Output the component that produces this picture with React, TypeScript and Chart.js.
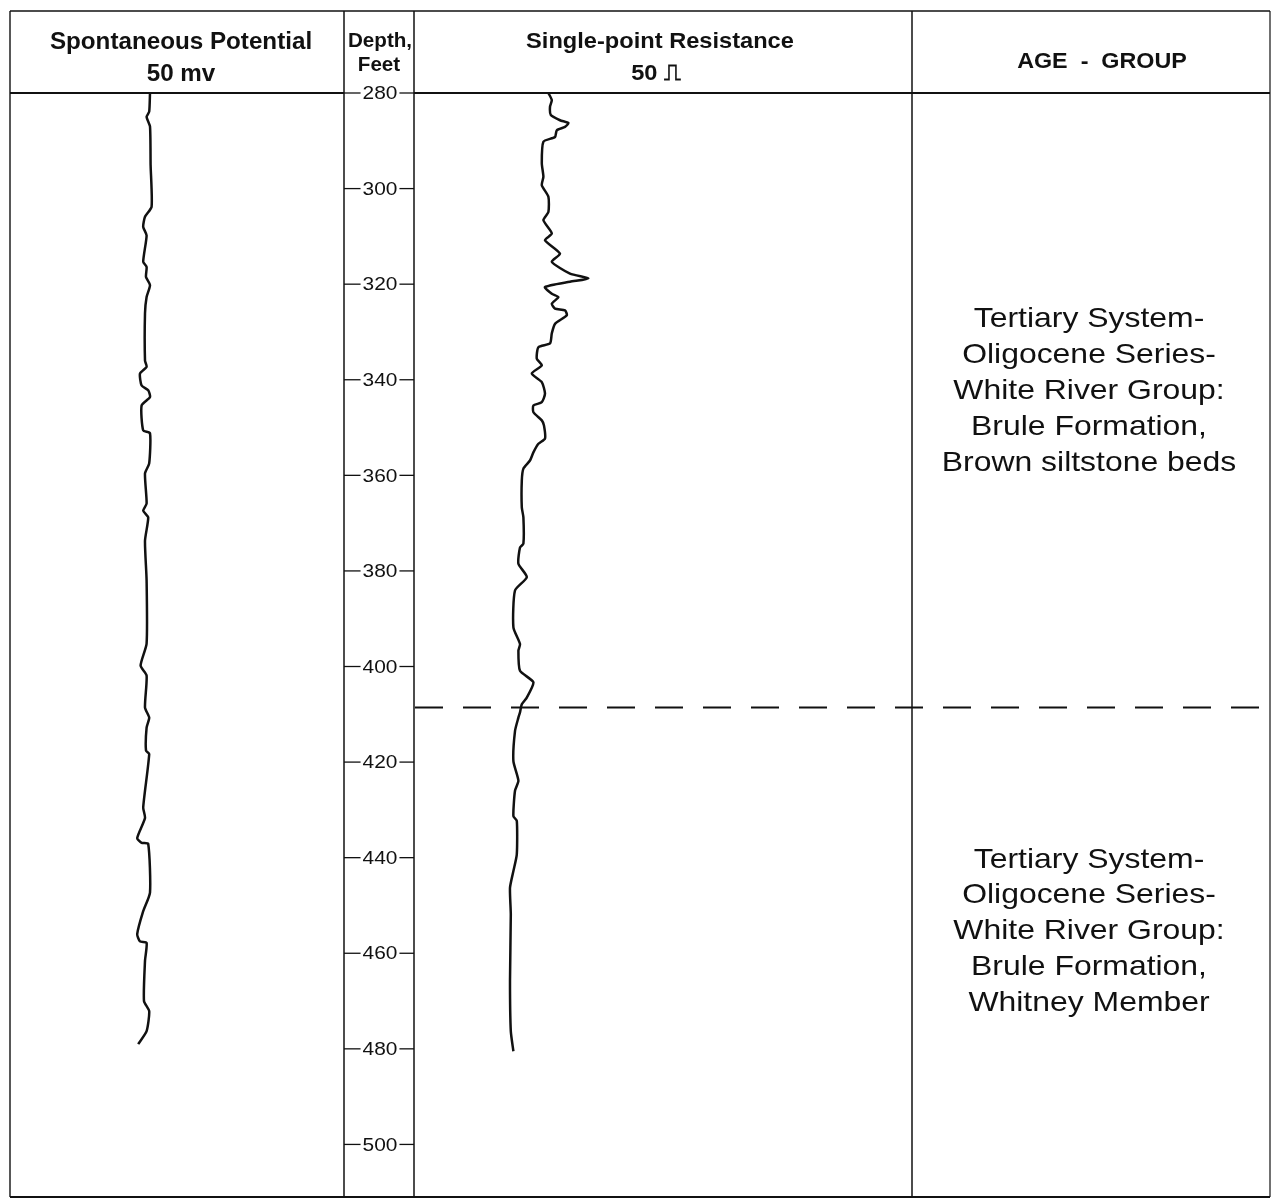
import React, { useEffect, useRef } from "react";
import { Chart, registerables } from "chart.js";

Chart.register(...registerables);

// ---------------- data ----------------
const depthTicks = [280, 300, 320, 340, 360, 380, 400, 420, 440, 460, 480, 500];

// Spontaneous potential (mV, relative) by depth (feet)
const spDepth = [280, 283.9, 285, 287, 295, 303.8, 305.9, 308, 309.8, 315.3, 316.4, 318.5, 320.2, 322.7, 326.1, 336, 337.3, 338.7, 341.2, 342.2, 343.6, 345.4, 350.6, 351.2, 357.5, 359.6, 365.9, 367.4, 368.8, 373.7, 382, 395.2, 399.8, 401.9, 408.6, 410.7, 412.8, 417.6, 418.3, 429.5, 431.7, 435.9, 436.9, 437.1, 447.3, 451.2, 456, 457.5, 457.8, 461.6, 470, 472.1, 476.3, 479];
const spValues = [70, 69.6, 68.3, 70, 70.3, 70.8, 67.5, 66.6, 68.3, 66.6, 68.3, 68, 70, 68.3, 67.5, 67.5, 68.3, 65, 65.8, 69.1, 70, 65.8, 66.6, 70, 69.6, 67.5, 68.3, 66.6, 69.1, 67.5, 68.3, 68.3, 65.3, 68.3, 67.5, 69.6, 68.3, 68, 69.6, 66.6, 67.5, 63.6, 65.8, 69.1, 70, 66.6, 63.6, 65, 68.3, 67.5, 67, 69.6, 68.3, 64.1];

// Single-point resistance (ohms, relative) by depth (feet)
const resDepth = [280, 281.5, 282.9, 284.6, 285.7, 286.3, 287.1, 287.8, 289.2, 290.2, 294.7, 297.5, 299.3, 301.7, 304.9, 306.6, 309.4, 310.8, 313.6, 315.3, 317.8, 318.8, 319.5, 320.6, 322, 322.7, 324.1, 325.1, 325.5, 326.5, 328.3, 330.3, 332.4, 333.2, 335.6, 337, 338.7, 340.5, 342.9, 344.7, 345.4, 346.8, 348.5, 349.6, 352.3, 353.4, 355.2, 356.9, 358.6, 361.1, 366.7, 368.8, 374.3, 375.1, 378.5, 381.3, 384.1, 391.8, 395.3, 396.7, 400.9, 403.3, 406.5, 407.9, 409.6, 410.7, 413.5, 419.8, 423.9, 426, 431.3, 432.3, 439.3, 442.8, 446.3, 451.9, 465.8, 476.3, 480.5];
const resValues = [66.7, 68.4, 67.5, 67.9, 72.5, 76.7, 75, 70.9, 70, 64.2, 63.4, 64.2, 63.4, 66.7, 66.7, 64.2, 68.4, 65, 72.5, 68.4, 77.5, 86.7, 77.5, 65, 68.4, 71.7, 68.4, 70, 75, 75.9, 70, 68.4, 67.5, 61.7, 60.9, 63.4, 58.4, 63.4, 65, 63.4, 59.2, 59.2, 63.4, 64.5, 65, 61.7, 59.2, 57.5, 54.2, 53.4, 53.4, 54.2, 54.2, 52.5, 51.7, 55.9, 50, 49.2, 52.5, 51.7, 52.5, 59.2, 55.9, 53.4, 52.5, 51.7, 50, 49.2, 51.7, 50, 49.2, 50.9, 50.9, 49.2, 47.5, 47.9, 47.5, 47.9, 49.2];

const depthMin = 280;
const depthMax = 511;
const contactDepth = 408.6;

const upperUnitLines = ["Tertiary System-", "Oligocene Series-", "White River Group:", "Brule Formation,", "Brown siltstone beds"];
const upperUnitCenterDepth = 342.4;
const lowerUnitLines = ["Tertiary System-", "Oligocene Series-", "White River Group:", "Brule Formation,", "Whitney Member"];
const lowerUnitCenterDepth = 455.4;

const spTitle = ["Spontaneous Potential", "50 mv"];
const depthTitle = ["Depth,", "Feet"];
const resTitle = ["Single-point Resistance", "50 \u238D"];
const ageTitle = "AGE  -  GROUP";

// ---------------- layout ----------------
const W = 1277;
const H = 1200;
const FRAME_L = 10;
const FRAME_R = 1270;
const FRAME_T = 11;
const HEADER_B = 93;
const FRAME_B = 1197;
const COL_SP_R = 344;
const COL_DEPTH_R = 414;
const COL_RES_R = 912;

// value ranges represented by the SP and resistance track widths
const SP_TRACK = { left: FRAME_L, right: COL_SP_R, vMin: 0, vMax: (COL_SP_R - FRAME_L) / 2 };
const RES_TRACK = { left: 415, right: COL_RES_R, vMin: 0, vMax: (COL_RES_R - 415) / 2 };

function axisRange(track: { left: number; right: number; vMin: number; vMax: number }) {
  const perPx = (track.vMax - track.vMin) / (track.right - track.left);
  return {
    min: track.vMin - (track.left - FRAME_L) * perPx,
    max: track.vMax + (FRAME_R - track.right) * perPx,
  };
}

const INK = "#111111";
const SANS = "'Liberation Sans', Arial, Helvetica, 'DejaVu Sans', sans-serif";

function drawText(
  ctx: CanvasRenderingContext2D,
  text: string,
  x: number,
  y: number,
  font: string,
  stretch: number,
  baseline: CanvasTextBaseline = "alphabetic"
) {
  ctx.save();
  ctx.font = font;
  ctx.fillStyle = INK;
  ctx.textAlign = "center";
  ctx.textBaseline = baseline;
  ctx.translate(x, y);
  ctx.scale(stretch, 1);
  ctx.fillText(text, 0, 0);
  ctx.restore();
}

function line(ctx: CanvasRenderingContext2D, x1: number, y1: number, x2: number, y2: number, w = 1.5) {
  ctx.save();
  ctx.strokeStyle = INK;
  ctx.lineWidth = w;
  ctx.beginPath();
  ctx.moveTo(x1, y1);
  ctx.lineTo(x2, y2);
  ctx.stroke();
  ctx.restore();
}

const logPlugin = {
  id: "logSheet",
  beforeDraw(chart: any) {
    const ctx = chart.ctx as CanvasRenderingContext2D;
    ctx.save();
    ctx.fillStyle = "#ffffff";
    ctx.fillRect(0, 0, chart.width, chart.height);
    ctx.restore();
  },
  afterDraw(chart: any) {
    const ctx = chart.ctx as CanvasRenderingContext2D;
    const y = chart.scales.y;
    const top = chart.chartArea.top;

    // frame
    line(ctx, FRAME_L, FRAME_T, FRAME_R, FRAME_T, 1.6);
    line(ctx, FRAME_L, FRAME_B, FRAME_R, FRAME_B, 1.8);
    line(ctx, FRAME_L, FRAME_T, FRAME_L, FRAME_B, 1.4);
    line(ctx, FRAME_R, FRAME_T, FRAME_R, FRAME_B, 1.2);
    line(ctx, COL_SP_R, FRAME_T, COL_SP_R, FRAME_B, 1.5);
    line(ctx, COL_DEPTH_R, FRAME_T, COL_DEPTH_R, FRAME_B, 1.5);
    line(ctx, COL_RES_R, FRAME_T, COL_RES_R, FRAME_B, 1.5);
    // header bottom
    line(ctx, FRAME_L, top, COL_SP_R, top, 1.8);
    line(ctx, COL_DEPTH_R, top, FRAME_R, top, 1.8);

    // headers
    const hFont = `bold 23.5px ${SANS}`;
    const spCx = 181;
    drawText(ctx, spTitle[0], spCx, 49, hFont, 1.03);
    drawText(ctx, spTitle[1], spCx, 81, hFont, 1.03);
    const dCx = (COL_SP_R + COL_DEPTH_R) / 2;
    drawText(ctx, depthTitle[0], dCx + 1, 47, `bold 20px ${SANS}`, 1.03);
    drawText(ctx, depthTitle[1], dCx, 71, `bold 20px ${SANS}`, 1.03);
    const rCx = 660;
    drawText(ctx, resTitle[0], rCx, 48, `bold 22.5px ${SANS}`, 1.05);
    drawText(ctx, resTitle[1], rCx - 4, 80, `bold 22.5px ${SANS}`, 1.05);
    drawText(ctx, ageTitle, 1102, 68, `bold 22px ${SANS}`, 1.06);

    // depth tick labels with dashes to the column edges
    const tickFont = `19px ${SANS}`;
    const tickStretch = 1.1;
    ctx.save();
    ctx.font = tickFont;
    depthTicks.forEach((t) => {
      const py = y.getPixelForValue(t);
      const w = ctx.measureText(String(t)).width * tickStretch;
      drawText(ctx, String(t), dCx + 1, py + 1, tickFont, tickStretch, "middle");
      line(ctx, COL_SP_R, py, dCx + 1 - w / 2 - 2, py, 1.3);
      line(ctx, dCx + 1 + w / 2 + 2, py, COL_DEPTH_R, py, 1.3);
    });
    ctx.restore();

    // contact (dashed)
    const cy = y.getPixelForValue(contactDepth);
    ctx.save();
    ctx.strokeStyle = INK;
    ctx.lineWidth = 2;
    ctx.setLineDash([28, 20]);
    ctx.beginPath();
    ctx.moveTo(COL_DEPTH_R + 1, cy);
    ctx.lineTo(FRAME_R - 4, cy);
    ctx.stroke();
    ctx.restore();

    // age - group descriptions
    const aCx = 1089;
    const lh = 35.8;
    const ageFont = `28.5px ${SANS}`;
    const drawBlock = (lines: string[], centerDepth: number) => {
      const c = y.getPixelForValue(centerDepth);
      const start = c - ((lines.length - 1) / 2) * lh;
      lines.forEach((s, i) => drawText(ctx, s, aCx, start + i * lh, ageFont, 1.12, "middle"));
    };
    drawBlock(upperUnitLines, upperUnitCenterDepth);
    drawBlock(lowerUnitLines, lowerUnitCenterDepth);
  },
};

export default function App() {
  const ref = useRef<HTMLCanvasElement>(null);

  useEffect(() => {
    if (!ref.current) return;
    const spRange = axisRange(SP_TRACK);
    const resRange = axisRange(RES_TRACK);
    const chart = new Chart(ref.current, {
      type: "scatter",
      data: {
        datasets: [
          {
            label: "Spontaneous Potential",
            data: spDepth.map((d, i) => ({ x: spValues[i], y: d })),
            xAxisID: "xsp",
            yAxisID: "y",
            showLine: true,
            borderColor: INK,
            borderWidth: 2.5,
            pointRadius: 0,
            tension: 0.2,
          },
          {
            label: "Single-point Resistance",
            data: resDepth.map((d, i) => ({ x: resValues[i], y: d })),
            xAxisID: "xres",
            yAxisID: "y",
            showLine: true,
            borderColor: INK,
            borderWidth: 2.5,
            pointRadius: 0,
            tension: 0.2,
          },
        ],
      },
      options: {
        responsive: false,
        devicePixelRatio: 1,
        animation: false,
        layout: {
          padding: { left: FRAME_L, right: W - FRAME_R, top: HEADER_B, bottom: H - FRAME_B },
        },
        plugins: { legend: { display: false }, tooltip: { enabled: false } },
        scales: {
          y: { type: "linear", reverse: true, min: depthMin, max: depthMax, display: false },
          xsp: { type: "linear", position: "bottom", min: spRange.min, max: spRange.max, display: false },
          xres: { type: "linear", position: "bottom", min: resRange.min, max: resRange.max, display: false },
        },
      },
      plugins: [logPlugin],
    });
    return () => chart.destroy();
  }, []);

  return (
    <div style={{ position: "absolute", left: 0, top: 0, width: W, height: H, background: "#fff" }}>
      <canvas ref={ref} width={W} height={H} style={{ display: "block", width: W, height: H }} />
    </div>
  );
}
